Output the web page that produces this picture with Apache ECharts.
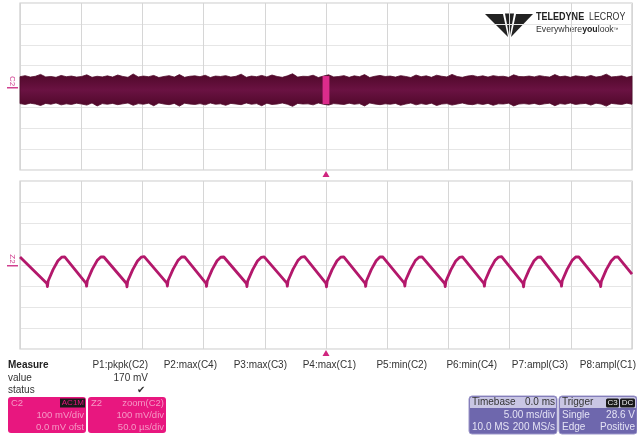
<!DOCTYPE html>
<html>
<head>
<meta charset="utf-8">
<script src="https://cdn.jsdelivr.net/npm/echarts/dist/echarts.min.js"></script>
<style>
  html, body { margin: 0; padding: 0; background: #fff; }
  #main { width: 637px; height: 436px; }
</style>
</head>
<body>
<div id="main"></div>
<script>
// top trace (C2): 5 ms/div, 100 mV/div, noise band envelope (mV)
const bandHi = [
  47,52,45,49,58,46,48,44,53,47,50,45,48,56,44,49,46,51,45,55,
  48,44,60,46,50,47,53,43,48,52,45,57,44,49,51,47,54,43,50,48,
  52,45,49,59,44,50,47,53,46,55,48,44,51,61,45,49,48,54,43,50,
  56,46,48,52,44,51,47,57,43,49,53,48,50,45,52,48,43,55,47,51,
  44,54,49,46,58,48,44,50,53,47,51,45,52,48,49,44,56,48,47,50,
  46,52,48,45,57,47,50,44,51,48,46,53,45,49,59,46,48,51,44,50
];
const bandLo = [
  -82,-86,-80,-84,-91,-81,-85,-79,-88,-83,-86,-80,-84,-89,-79,-93,-82,-85,-81,-87,
  -83,-79,-90,-82,-85,-80,-92,-79,-84,-87,-81,-94,-80,-84,-86,-82,-88,-79,-85,-83,
  -90,-81,-84,-87,-79,-85,-82,-92,-80,-86,-84,-79,-85,-95,-81,-84,-83,-88,-79,-85,
  -89,-82,-84,-86,-80,-85,-82,-93,-79,-84,-87,-83,-85,-81,-90,-84,-79,-88,-82,-86,
  -80,-91,-84,-82,-89,-84,-79,-85,-87,-82,-86,-81,-90,-83,-84,-80,-93,-84,-82,-85,
  -81,-87,-83,-80,-92,-82,-85,-79,-86,-83,-81,-89,-80,-84,-94,-81,-84,-86,-80,-85
];
// zoom window marked on C2 (ms, mV)
const zoomWin = [[-0.28, 0.28, -84, 50]];

// bottom trace (Z2): 50 us/div, 100 mV/div, points [us, mV]
const zoomTrace = [
  [-250,38],
  [-228,-88],[-227.6,-103],[-227,-76],[-223,-22],[-219,20],[-216,37],[-213.5,39],
  [-196,-87],[-195.6,-101],[-195,-75],[-191,-21],[-187,21],[-184,38],[-181.5,38],
  [-163,-88],[-162.6,-104],[-162,-77],[-158,-23],[-154,19],[-151,37],[-148.5,40],
  [-130,-86],[-129.6,-100],[-129,-74],[-125,-21],[-121,21],[-118,38],[-115.5,39],
  [-98,-87],[-97.6,-102],[-97,-76],[-93,-22],[-89,20],[-86,37],[-83.5,38],
  [-65,-88],[-64.6,-103],[-64,-77],[-60,-23],[-56,19],[-53,36],[-50.5,39],
  [-32,-86],[-31.6,-101],[-31,-75],[-27,-21],[-23,21],[-20,38],[-17.5,40],
  [0,-88],[0.4,-104],[1,-77],[5,-22],[9,20],[12,37],[14.5,39],
  [32,-87],[32.4,-102],[33,-76],[37,-22],[41,20],[44,38],[46.5,38],
  [64,-86],[64.4,-100],[65,-74],[69,-21],[73,21],[76,37],[78.5,39],
  [97,-88],[97.4,-103],[98,-77],[102,-23],[106,19],[109,36],[111.5,39],
  [129,-87],[129.4,-101],[130,-75],[134,-21],[138,21],[141,38],[143.5,40],
  [161,-88],[161.4,-104],[162,-76],[166,-22],[170,20],[173,37],[175.5,38],
  [192,-86],[192.4,-101],[193,-75],[197,-21],[201,21],[204,38],[206.5,39],
  [224,-88],[224.4,-103],[225,-77],[229,-22],[233,19],[236,37],[238.5,39],
  [250,-44]
];

const measureCols = ['P1:pkpk(C2)', 'P2:max(C4)', 'P3:max(C3)', 'P4:max(C1)',
                     'P5:min(C2)', 'P6:min(C4)', 'P7:ampl(C3)', 'P8:ampl(C1)'];
const measureVals = ['170 mV', '', '', '', '', '', '', ''];

const chart = echarts.init(document.getElementById('main'));
const FONT = '"Liberation Sans", Arial, sans-serif';

function axisX(idx, min, max, step) {
  return {
    gridIndex: idx, type: 'value', min: min, max: max, interval: step,
    axisLine: { show: false }, axisTick: { show: false }, axisLabel: { show: false },
    splitLine: { lineStyle: { color: '#d6d6d6', width: 1 } }
  };
}
function axisY(idx) {
  return {
    gridIndex: idx, type: 'value', min: -400, max: 400, interval: 100,
    axisLine: { show: false }, axisTick: { show: false }, axisLabel: { show: false },
    splitLine: { lineStyle: { color: '#e6e6e6', width: 1 } }
  };
}

// text helper for the readout area
function txt(x, y, s, font, fill, align, extra) {
  return Object.assign({
    type: 'text', x: x, y: y,
    style: { text: s, font: font || ('10px ' + FONT), fill: fill || '#333',
             textAlign: align || 'left', textVerticalAlign: 'middle' }
  }, extra || {});
}

const graphics = [];

// logo patch
graphics.push({ type: 'rect', shape: { x: 480, y: 8, width: 150, height: 34 }, style: { fill: '#fff' } });
graphics.push({ type: 'polygon', shape: { points: [[485,14],[503,14],[508,37]] }, style: { fill: '#222' } });
graphics.push({ type: 'polygon', shape: { points: [[505,13.5],[514,13.5],[509.5,38]] }, style: { fill: '#222' } });
graphics.push({ type: 'polygon', shape: { points: [[533,14],[516,14],[511,37]] }, style: { fill: '#222' } });
graphics.push(txt(536, 17.5, 'TELEDYNE', 'bold 10.5px ' + FONT, '#222', 'left', { scaleX: 0.86 }));
graphics.push(txt(589, 17.5, 'LECROY', '10.5px ' + FONT, '#333', 'left', { scaleX: 0.84 }));
graphics.push({ type: 'text', x: 536, y: 29.5, scaleX: 0.92, style: {
  text: '{n|Everywhere}{y|you}{n|look}{t|™}', textVerticalAlign: 'middle',
  rich: { n: { font: '9.5px ' + FONT, fill: '#333' }, y: { font: 'bold 9.5px ' + FONT, fill: '#222' }, t: { font: '5px ' + FONT, fill: '#333' } }
}});

// trigger markers
graphics.push({ type: 'polygon', shape: { points: [[322.5,177],[329.5,177],[326,171]] }, style: { fill: '#d0257f' } });
graphics.push({ type: 'polygon', shape: { points: [[322.5,356],[329.5,356],[326,350]] }, style: { fill: '#d0257f' } });

// channel labels on left
graphics.push(txt(12, 81, 'C2', '8px ' + FONT, '#d0408f', 'center', { rotation: -Math.PI / 2 }));
graphics.push({ type: 'rect', shape: { x: 7, y: 87, width: 11, height: 1.5 }, style: { fill: '#d0408f' } });
graphics.push(txt(12, 259, 'Z2', '8px ' + FONT, '#d0408f', 'center', { rotation: -Math.PI / 2 }));
graphics.push({ type: 'rect', shape: { x: 7, y: 265, width: 11, height: 1.5 }, style: { fill: '#d0408f' } });

// measure table
graphics.push(txt(8, 365, 'Measure', 'bold 10px ' + FONT, '#222'));
graphics.push(txt(8, 378, 'value'));
graphics.push(txt(8, 390, 'status'));
const colRight = [148, 217, 287, 356, 427, 497, 568, 636];
measureCols.forEach((c, i) => {
  graphics.push(txt(colRight[i], 365, c, null, '#333', 'right'));
  if (measureVals[i]) {
    graphics.push(txt(colRight[i], 378, measureVals[i], null, '#333', 'right'));
    graphics.push(txt(colRight[i] - 3, 390, '✔', '10px ' + FONT, '#333', 'right'));
  }
});

// channel descriptor boxes
const pink = '#e8177f', pinkTxt = '#f59ac6';
const f95 = '9.5px ' + FONT;
graphics.push({ type: 'rect', shape: { x: 8, y: 397, width: 78, height: 36, r: 3 }, style: { fill: pink } });
graphics.push(txt(11, 403, 'C2', f95, pinkTxt));
graphics.push({ type: 'rect', shape: { x: 60, y: 398.5, width: 25, height: 9 }, style: { fill: '#1a1a1a' } });
graphics.push(txt(84, 403, 'AC1M', '8px ' + FONT, pink, 'right'));
graphics.push(txt(84, 415, '100 mV/div', f95, pinkTxt, 'right'));
graphics.push(txt(84, 427, '0.0 mV ofst', f95, pinkTxt, 'right'));

graphics.push({ type: 'rect', shape: { x: 88, y: 397, width: 78, height: 36, r: 3 }, style: { fill: pink } });
graphics.push(txt(91, 403, 'Z2', f95, pinkTxt));
graphics.push(txt(164, 403, 'zoom(C2)', f95, pinkTxt, 'right'));
graphics.push(txt(164, 415, '100 mV/div', f95, pinkTxt, 'right'));
graphics.push(txt(164, 427, '50.0 µs/div', f95, pinkTxt, 'right'));

// timebase and trigger boxes
const violet = '#6e67ad', violetHead = '#c9c6e4', lightTxt = '#e4e2f4';
function vbox(x, w) {
  graphics.push({ type: 'rect', shape: { x: x, y: 396, width: w, height: 38, r: 3 }, style: { fill: violet, stroke: '#9a95c8', lineWidth: 1 } });
  graphics.push({ type: 'rect', shape: { x: x + 1, y: 397, width: w - 2, height: 11, r: [2, 2, 0, 0] }, style: { fill: violetHead } });
}
vbox(469, 88);
graphics.push(txt(472, 402.5, 'Timebase'));
graphics.push(txt(555, 402.5, '0.0 ms', null, '#333', 'right'));
graphics.push(txt(555, 415, '5.00 ms/div', null, lightTxt, 'right'));
graphics.push(txt(472, 427, '10.0 MS', null, lightTxt));
graphics.push(txt(555, 427, '200 MS/s', null, lightTxt, 'right'));

vbox(559, 78);
graphics.push(txt(562, 402.5, 'Trigger'));
graphics.push({ type: 'rect', shape: { x: 606, y: 398.5, width: 13, height: 9, r: 1.5 }, style: { fill: '#1a1a1a' } });
graphics.push(txt(612.5, 403, 'C3', '8px ' + FONT, '#eee', 'center'));
graphics.push({ type: 'rect', shape: { x: 620, y: 398.5, width: 15, height: 9, r: 1.5 }, style: { fill: '#1a1a1a' } });
graphics.push(txt(627.5, 403, 'DC', '8px ' + FONT, '#eee', 'center'));
graphics.push(txt(562, 415, 'Single', null, lightTxt));
graphics.push(txt(635, 415, '28.6 V', null, lightTxt, 'right'));
graphics.push(txt(562, 427, 'Edge', null, lightTxt));
graphics.push(txt(635, 427, 'Positive', null, lightTxt, 'right'));

const bandStep = 50 / (bandHi.length - 1);
const bandFill = new echarts.graphic.LinearGradient(0, 0, 0, 1, [
  { offset: 0, color: '#4f0829' },
  { offset: 0.5, color: '#6a1242' },
  { offset: 1, color: '#4f0829' }
]);

chart.setOption({
  animation: false,
  backgroundColor: '#fff',
  grid: [
    { left: 20, top: 3, width: 612, height: 167, show: true, borderColor: '#cccccc', borderWidth: 1.2 },
    { left: 20, top: 181, width: 612, height: 168, show: true, borderColor: '#cccccc', borderWidth: 1.2 }
  ],
  xAxis: [axisX(0, -25, 25, 5), axisX(1, -250, 250, 50)],
  yAxis: [axisY(0), axisY(1)],
  series: [
    {
      type: 'custom', xAxisIndex: 0, yAxisIndex: 0, silent: true,
      data: [[0, 0]],
      renderItem: function (params, api) {
        const pts = [];
        bandHi.forEach((v, i) => pts.push(api.coord([-25 + i * bandStep, v])));
        for (let i = bandLo.length - 1; i >= 0; i--) pts.push(api.coord([-25 + i * bandStep, bandLo[i]]));
        return { type: 'polygon', shape: { points: pts }, style: { fill: bandFill, stroke: '#500a2b', lineWidth: 0.8 } };
      }
    },
    {
      type: 'custom', xAxisIndex: 0, yAxisIndex: 0, silent: true,
      data: zoomWin,
      renderItem: function (params, api) {
        const a = api.coord([api.value(0), api.value(3)]);
        const b = api.coord([api.value(1), api.value(2)]);
        return { type: 'rect', shape: { x: a[0], y: a[1], width: b[0] - a[0], height: b[1] - a[1] }, style: { fill: '#dc2c8c' } };
      }
    },
    {
      type: 'line', xAxisIndex: 1, yAxisIndex: 1, silent: true,
      data: zoomTrace, showSymbol: false, smooth: false,
      lineStyle: { color: '#b3186b', width: 2.8, join: 'round' }
    }
  ],
  graphic: graphics
});
</script>
</body>
</html>
